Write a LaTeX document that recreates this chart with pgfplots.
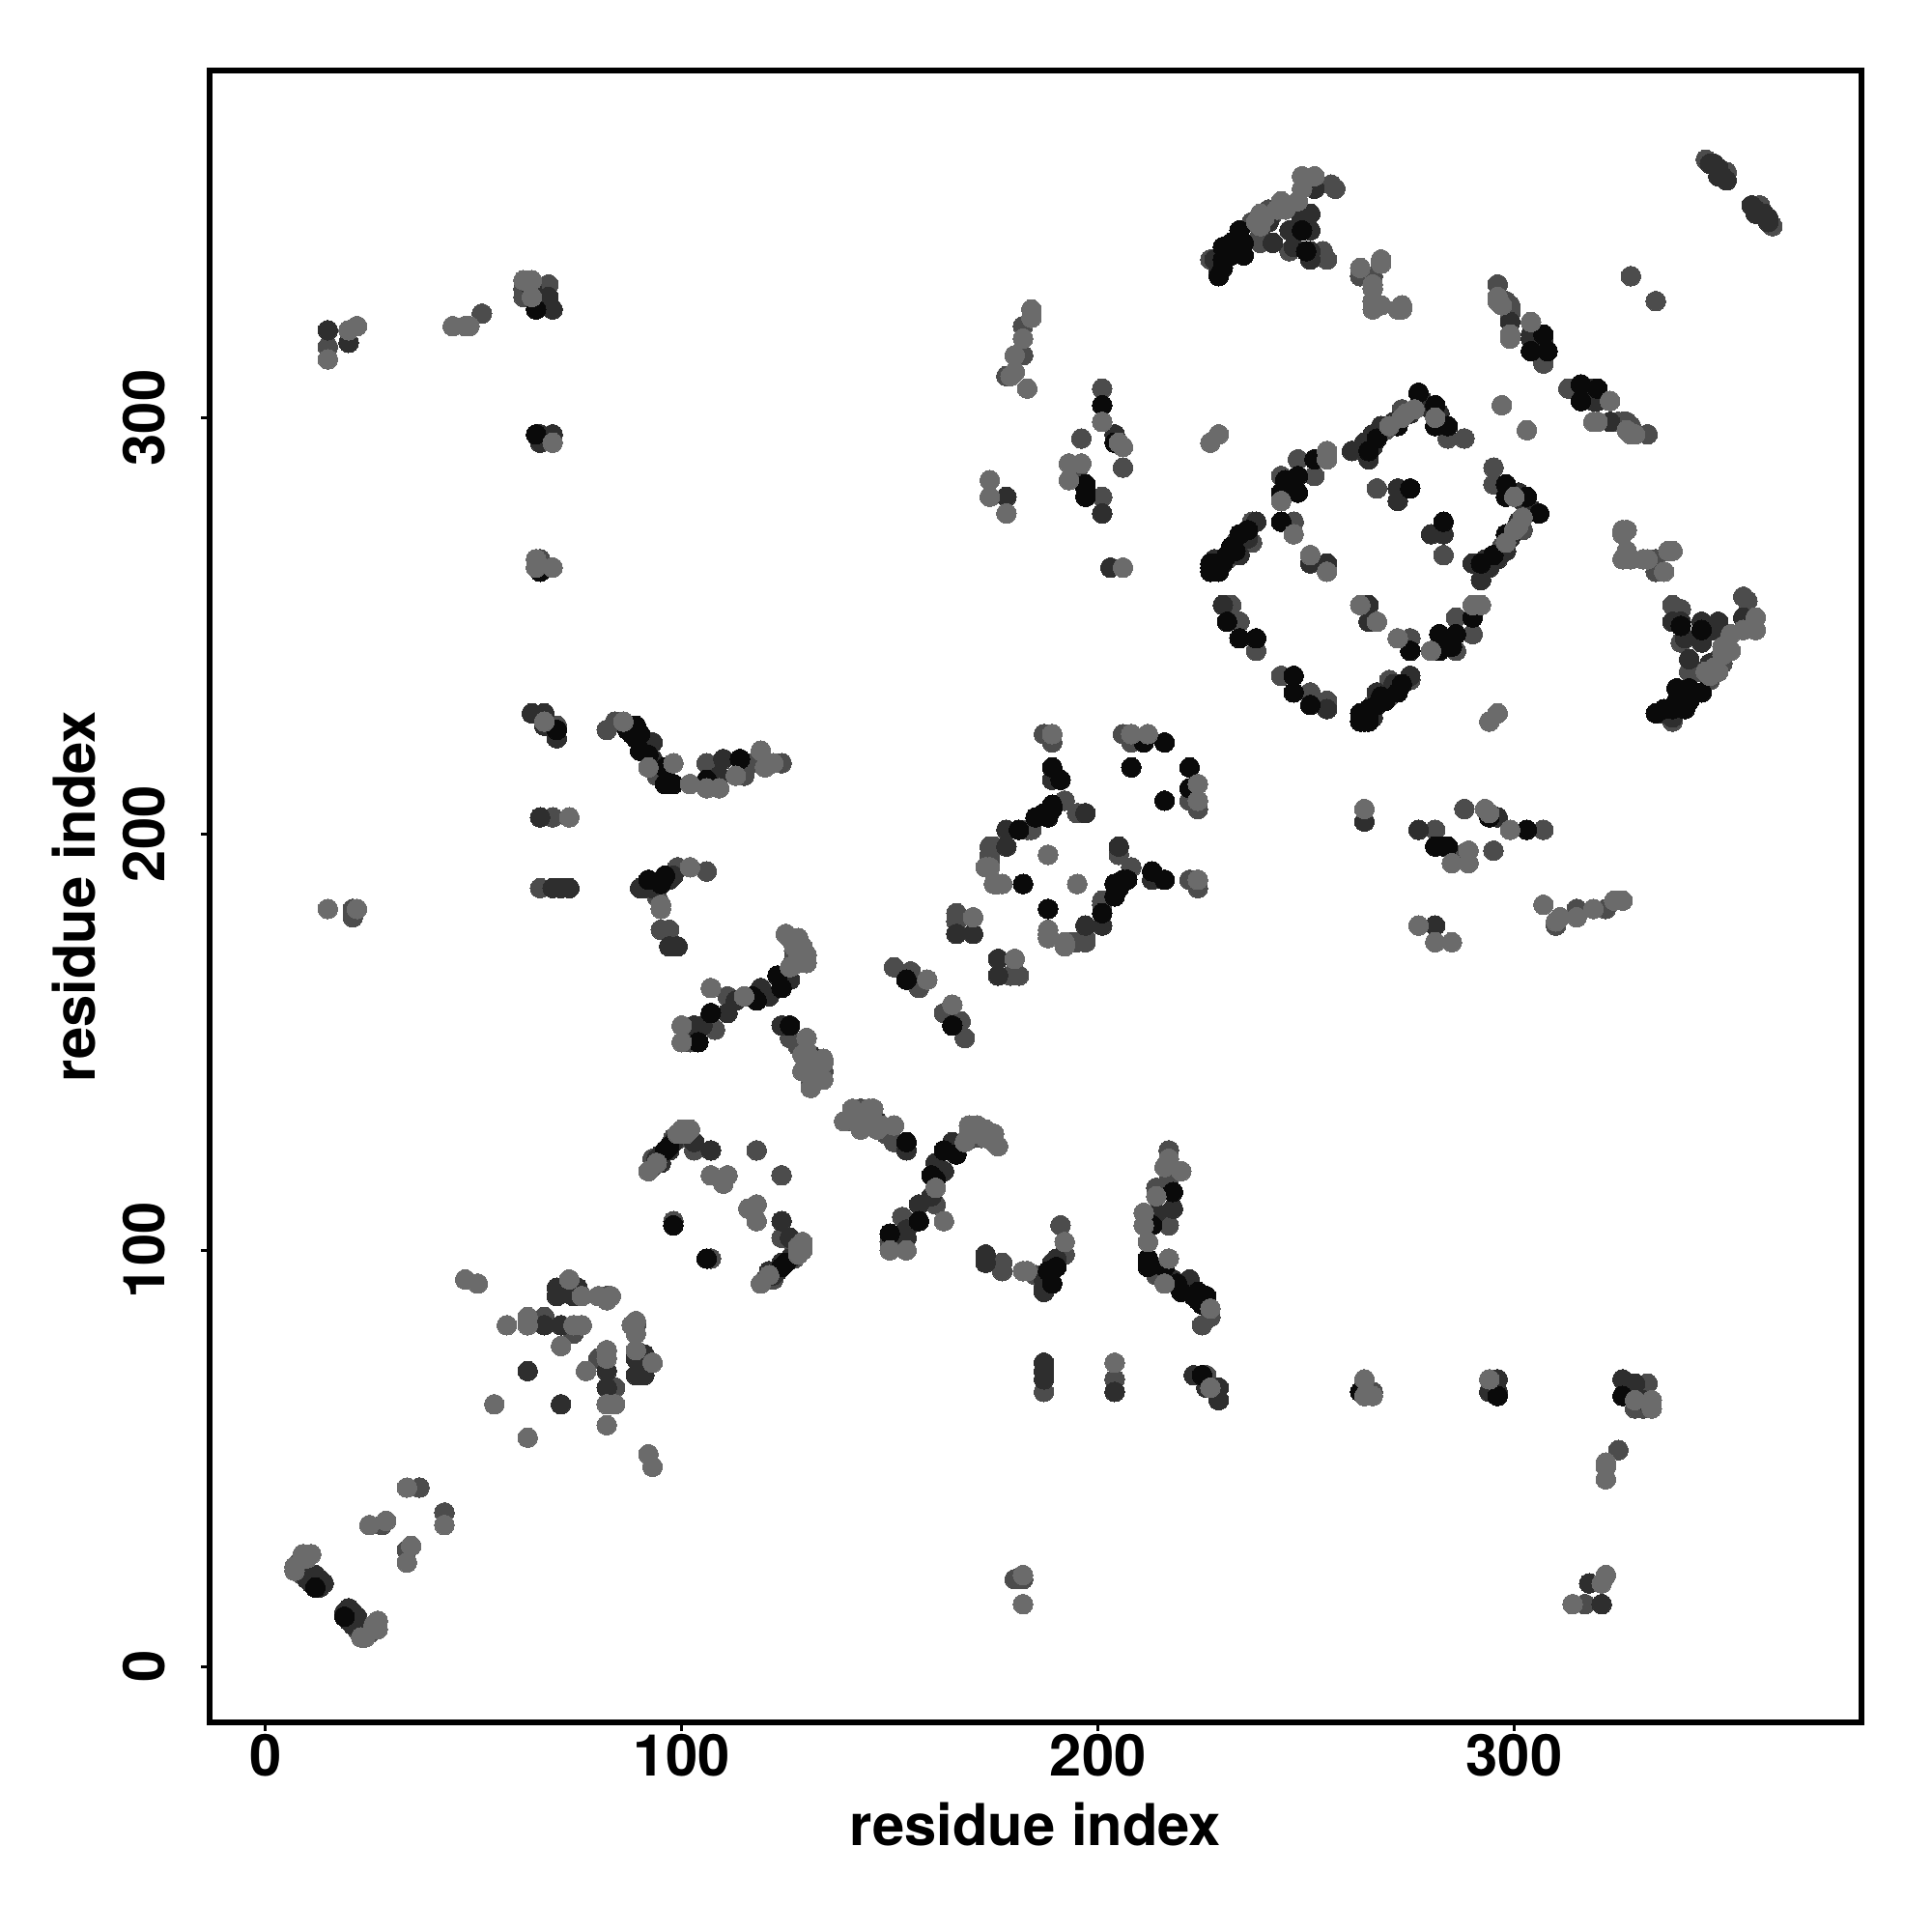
\documentclass[border=0pt]{standalone}
\usepackage{fontspec}
\setmainfont{TeX Gyre Heros}
\usepackage{pgfplots}
\usepackage{pgfplotstable}
\pgfplotsset{compat=1.18}

% contact map is symmetric: only the x<y half is listed, each table is plotted twice
\pgfplotstableread{
x y
7 24
7 23
9 27
11 27
10 26
25 34
29 35
34 43
48 93
51 92
73 93
76 89
80 89
83 89
82 88
58 82
55 63
63 84
63 82
74 82
76 82
71 77
92 119
94 121
99 128
101 128
100 129
102 129
107 118
110 116
111 118
100 154
100 150
107 163
115 161
126 168
125 176
126 175
128 175
130 171
130 169
128 171
127 173
129 173
128 169
131 139
134 141
134 146
129 143
130 151
129 147
132 144
130 145
131 143
133 141
130 148
134 145
159 165
170 180
95 182
95 183
102 192
15 182
22 182
73 204
67 227
65 266
69 264
65 264
69 294
62 333
64 333
64 329
15 314
20 321
22 322
45 322
48 322
49 322
86 227
92 216
98 217
102 212
106 211
109 211
113 214
119 220
120 216
122 217
173 192
188 195
175 188
177 188
189 224
208 224
212 224
176 188
174 192
174 285
174 281
178 277
184 326
182 319
180 315
180 311
179 310
183 307
184 324
201 299
205 294
206 293
193 289
196 289
193 285
206 264
227 294
229 296
239 349
239 346
238 347
240 348
243 350
244 352
248 352
249 358
252 358
249 355
263 336
268 338
266 331
266 326
268 327
272 326
273 326
273 327
296 329
297 327
299 320
304 323
323 304
319 299
328 296
297 303
244 280
247 272
251 267
255 263
255 292
255 290
270 298
273 300
274 301
276 302
281 300
266 328
266 332
268 337
245 350
}\tabL

\pgfplotstableread{
x y
8 25
9 24
9 22
10 23
28 34
37 43
82 89
67 84
74 80
93 122
93 120
98 127
99 127
100 127
103 124
98 107
118 124
108 153
111 161
102 150
126 151
133 143
128 149
134 143
127 172
127 170
132 146
131 140
151 168
155 167
157 163
166 181
166 179
95 177
97 177
99 192
106 191
94 185
94 214
21 180
21 182
69 204
66 187
82 225
84 227
70 226
66 266
68 332
66 331
62 329
62 331
67 327
15 317
52 325
115 214
117 217
106 217
124 217
187 224
189 222
192 208
183 201
174 197
174 195
174 194
175 197
195 205
206 224
208 222
184 201
182 322
182 315
178 310
201 307
196 295
206 288
195 287
201 281
227 338
237 347
242 349
241 350
246 340
254 340
255 338
231 266
233 270
237 275
237 270
256 356
257 355
266 334
263 334
296 332
298 328
299 326
307 314
313 307
323 299
325 299
327 299
332 296
328 334
232 255
234 251
238 244
247 275
252 286
244 286
248 290
267 283
269 297
284 295
288 295
273 302
272 299
267 296
239 342
239 344
250 349
346 362
351 359
}\tabM

\pgfplotstableread{
x y
10 21
11 20
13 21
14 20
13 19
12 22
70 91
70 89
75 91
74 89
67 82
71 82
63 71
94 122
95 121
97 124
95 123
98 126
103 126
107 124
103 154
105 154
111 157
113 160
119 163
121 161
126 165
131 147
124 154
170 176
166 176
97 173
99 173
93 187
91 187
90 187
93 188
97 189
98 190
20 318
15 321
64 331
68 329
69 326
66 204
69 187
71 187
73 187
64 229
67 229
67 226
70 223
66 296
66 294
69 296
91 222
93 222
93 218
110 218
109 214
189 213
178 201
178 197
197 205
178 281
201 277
203 264
204 296
229 335
228 338
241 347
246 345
249 348
251 340
251 338
252 355
299 323
304 320
305 319
319 307
319 304
347 361
348 361
349 360
349 358
351 357
350 358
228 266
235 271
236 271
238 275
234 267
251 265
255 265
261 292
264 294
265 290
266 293
266 296
268 298
271 299
275 301
278 304
280 302
282 301
265 293
277 303
230 255
272 283
272 280
242 342
247 341
251 345
251 349
247 345
}\tabD

\pgfplotstableread{
x y
12 19
96 124
97 125
104 150
107 157
117 161
118 160
123 166
124 163
126 154
154 165
92 189
95 188
96 190
98 106
65 296
66 263
65 326
70 225
87 225
88 224
89 223
90 224
90 220
92 219
89 226
96 216
96 212
98 212
106 213
114 218
182 188
189 216
191 213
187 205
189 207
185 204
181 201
188 204
189 206
211 222
216 222
208 216
201 303
204 294
197 284
197 281
197 283
230 341
232 342
234 345
249 345
307 320
304 316
308 316
316 308
316 304
227 263
228 264
227 265
229 265
231 267
232 269
233 268
234 272
236 273
227 264
229 263
230 265
244 275
244 282
245 285
246 283
247 285
248 286
248 282
252 290
265 292
267 295
277 306
281 303
281 298
284 298
272 298
231 251
234 247
238 247
275 283
250 340
229 334
230 336
230 338
232 339
235 339
235 342
}\tabK

\definecolor{grayL}{gray}{0.42}
\definecolor{grayM}{gray}{0.30}
\definecolor{grayD}{gray}{0.18}
\definecolor{grayK}{gray}{0.04}

\pgfplotsset{pts/.style={only marks, mark=*, mark size=2.9pt, mark options={draw=#1, fill=#1, line width=0pt}}}

\begin{document}
\begin{tikzpicture}[x=1cm,y=1cm]
\useasboundingbox (0,0) rectangle (20,20);
\begin{axis}[
    at={(2.17cm,2.17cm)}, anchor=south west,
    scale only axis,
    width=17.10cm, height=17.10cm,
    xmin=-13.4, xmax=383.4, ymin=-13.4, ymax=383.4,
    xtick={0,100,200,300}, ytick={0,100,200,300},
    axis line style={line width=1.7pt},
    tick style={line width=0.9pt, black},
    tick align=outside, tickwidth=0.09cm,
    xtick pos=bottom, ytick pos=left,
    /pgf/number format/assume math mode=true,
    tick label style={font=\fontsize{17}{20}\selectfont\bfseries},
    yticklabel style={rotate=90, anchor=south},
    yticklabel shift=0.25cm,
    xticklabel shift=-0.09cm,
    label style={font=\fontsize{17}{20}\selectfont\bfseries},
    xlabel={residue index}, ylabel={residue index},
    xlabel style={yshift=-0.03cm},
    ylabel style={yshift=0.04cm},
]
\addplot[pts=grayM] table[x index=0,y index=1] {\tabM};
\addplot[pts=grayM] table[x index=1,y index=0] {\tabM};
\addplot[pts=grayD] table[x index=0,y index=1] {\tabD};
\addplot[pts=grayD] table[x index=1,y index=0] {\tabD};
\addplot[pts=grayK] table[x index=0,y index=1] {\tabK};
\addplot[pts=grayK] table[x index=1,y index=0] {\tabK};
\addplot[pts=grayL] table[x index=0,y index=1] {\tabL};
\addplot[pts=grayL] table[x index=1,y index=0] {\tabL};
\end{axis}
\end{tikzpicture}
\end{document}
